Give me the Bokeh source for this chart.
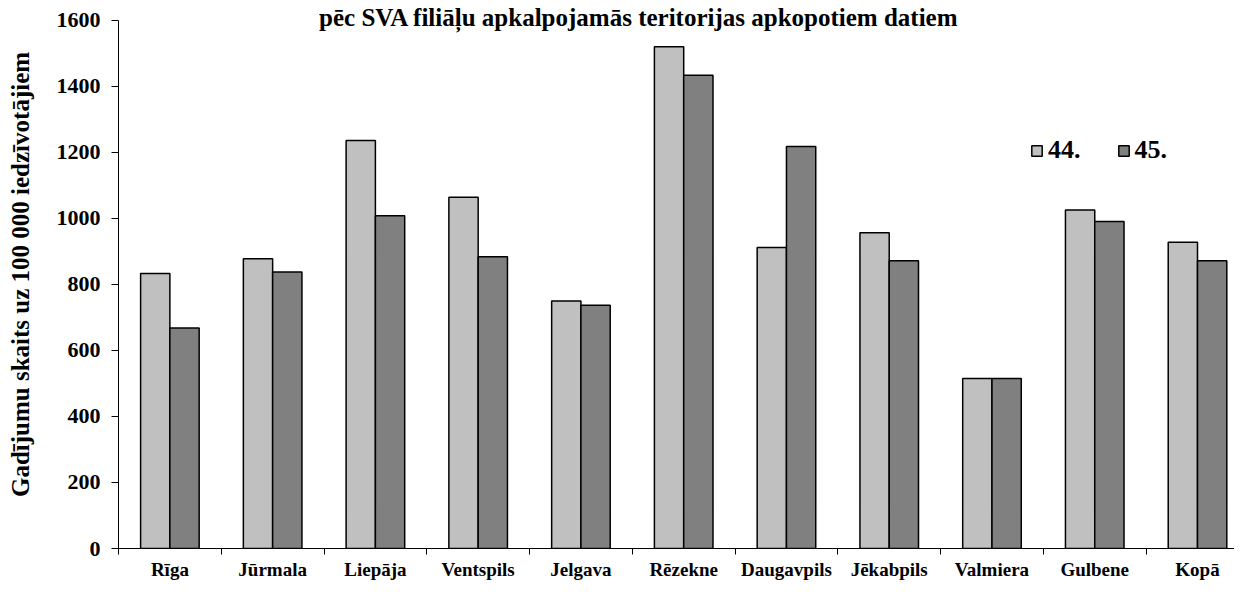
import numpy as np
from bokeh.plotting import figure
from bokeh.models import Range1d, FixedTicker, Label, Legend, LegendItem, ColumnDataSource
from bokeh.embed import file_html
from bokeh.resources import INLINE

# ---- data ----
categories = ["Rīga", "Jūrmala", "Liepāja", "Ventspils", "Jelgava", "Rēzekne",
              "Daugavpils", "Jēkabpils", "Valmiera", "Gulbene", "Kopā"]
series_names = ["44.", "45."]
week44 = [833, 878, 1236, 1064, 750, 1520, 912, 957, 515, 1026, 928]
week45 = [668, 838, 1008, 884, 737, 1434, 1218, 872, 515, 991, 872]
y_ticks = [0, 200, 400, 600, 800, 1000, 1200, 1400, 1600]
title_text = "pēc SVA filiāļu apkalpojamās teritorijas apkopotiem datiem"
y_label = "Gadījumu skaits uz 100 000 iedzīvotājiem"

FONT = "Liberation Serif"
n = len(categories)
centers = np.arange(n) + 0.5
bw = 0.285
y_max = 1600
y_view_top = y_max * 549 / 529  # headroom above the axis for the title line

src = ColumnDataSource(dict(
    x44=centers - bw / 2, x45=centers + bw / 2,
    w44=week44, w45=week45, cat=categories))

p = figure(width=1234, height=582, output_backend="svg", toolbar_location=None,
           x_range=Range1d(0, 10.86), y_range=Range1d(0, y_view_top),
           min_border_left=118, min_border_right=0, min_border_top=0,
           min_border_bottom=33)
p.outline_line_color = None
p.xgrid.visible = False
p.ygrid.visible = False

r44 = p.vbar(x="x44", top="w44", width=bw, source=src,
             fill_color="#C0C0C0", line_color="black", line_width=1.5)
r45 = p.vbar(x="x45", top="w45", width=bw, source=src,
             fill_color="#808080", line_color="black", line_width=1.5)

# x axis
xa = p.xaxis[0]
xa.ticker = FixedTicker(ticks=list(centers), minor_ticks=list(range(n)))
xa.major_label_overrides = {float(c): cat for c, cat in zip(centers, categories)}
xa.major_tick_out = 0
xa.major_tick_in = 0
xa.minor_tick_out = 6
xa.minor_tick_in = 0
xa.minor_tick_line_color = "black"
xa.axis_line_color = "black"
xa.major_label_standoff = 4
xa.major_label_text_font = FONT
xa.major_label_text_font_style = "bold"
xa.major_label_text_font_size = "19px"
xa.major_label_text_color = "black"

# y axis
ya = p.yaxis[0]
ya.ticker = FixedTicker(ticks=y_ticks)
ya.bounds = (0, y_max)
ya.major_tick_out = 7
ya.major_tick_in = 0
ya.minor_tick_line_color = None
ya.axis_line_color = "black"
ya.major_tick_line_color = "black"
ya.major_label_standoff = 11
ya.major_label_text_font = FONT
ya.major_label_text_font_style = "bold"
ya.major_label_text_font_size = "22px"
ya.major_label_text_color = "black"
ya.axis_label = y_label
ya.axis_label_text_font = FONT
ya.axis_label_text_font_style = "bold"
ya.axis_label_text_font_size = "25px"
ya.axis_label_text_color = "black"
ya.axis_label_standoff = 20

# title (only its last line is visible at the top)
p.add_layout(Label(x=5.065, y=1609, text=title_text, text_align="center",
                   text_baseline="alphabetic", text_font=FONT,
                   text_font_style="bold", text_font_size="25px",
                   text_color="black"))

legend = Legend(items=[LegendItem(label=series_names[0], renderers=[r44]),
                       LegendItem(label=series_names[1], renderers=[r45])],
                orientation="horizontal", location=(912, 383))
legend.border_line_color = None
legend.background_fill_alpha = 0
legend.padding = 0
legend.margin = 0
legend.spacing = 36
legend.glyph_width = 13
legend.glyph_height = 13
legend.label_standoff = 5
legend.label_text_font = FONT
legend.label_text_font_style = "bold"
legend.label_text_font_size = "26px"
legend.label_text_color = "black"
p.add_layout(legend)

open("out.html", "w").write(file_html(p, INLINE))
